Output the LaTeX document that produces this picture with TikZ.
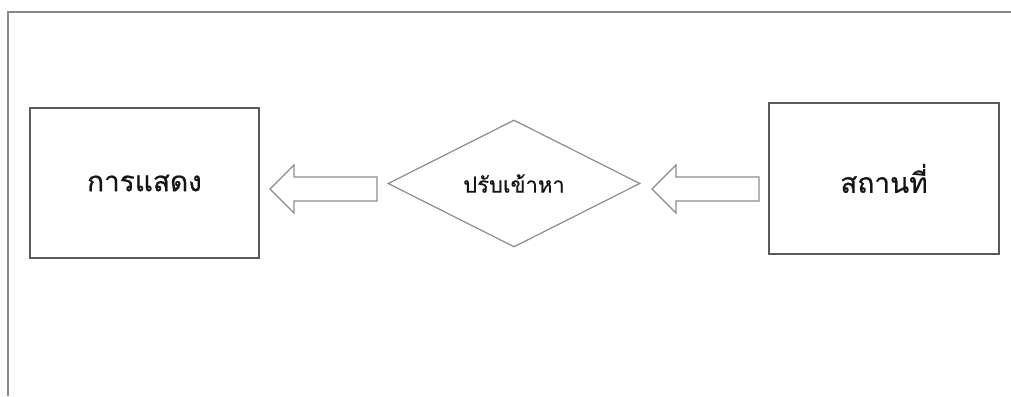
\documentclass[tikz,border=0pt]{standalone}
\usepackage{fontspec}
\usepackage{xcolor}
\usepackage{tikz}
\usetikzlibrary{positioning, shapes.geometric}
\newfontfamily\thaifont[Script=Thai, FakeBold=0.5]{Loma}
\definecolor{FrameGray}{HTML}{8A8A8A}
\definecolor{BoxGray}{HTML}{5A5A5A}
\definecolor{ArrowGray}{HTML}{8C8C8C}
\definecolor{InkBlack}{HTML}{141414}

\begin{document}
\begin{tikzpicture}[x=0.5pt, y=-0.5pt,
  every node/.style={font=\thaifont, text=InkBlack},
  placebox/.style={draw=BoxGray, line width=0.6pt, inner sep=0pt},
  fitdiamond/.style={draw=ArrowGray, line width=0.6pt, diamond, aspect=2, inner sep=0pt},
  blockarrow/.style={draw=ArrowGray, line width=0.6pt, line join=miter}]
  \useasboundingbox (0,0) rectangle (1011,396);

  % frame, only top and left edges show
  \draw[FrameGray, line width=0.9pt] (1011,12) -- (8,12) -- (8,396);

  \node[placebox, minimum width=114.5pt, minimum height=75pt, font=\thaifont\fontsize{14}{16}\selectfont]
    (show) at (144.5,183) {การแสดง};
  \node[placebox, minimum width=115pt, minimum height=75.5pt, font=\thaifont\fontsize{14}{16}\selectfont]
    (place) at (884,178.5) {สถานที่};
  \node[fitdiamond, minimum width=126pt, minimum height=63.5pt, font=\thaifont\fontsize{11}{13}\selectfont]
    (adjust) at (514,183.5) {ปรับเข้าหา};

  % block arrows
  \draw[blockarrow] (270,189) -- (294,165) -- (294,177) -- (377,177)
    -- (377,201) -- (294,201) -- (294,213) -- cycle;
  \draw[blockarrow] (652,189) -- (676,165) -- (676,177) -- (759,177)
    -- (759,201) -- (676,201) -- (676,213) -- cycle;
\end{tikzpicture}
\end{document}
